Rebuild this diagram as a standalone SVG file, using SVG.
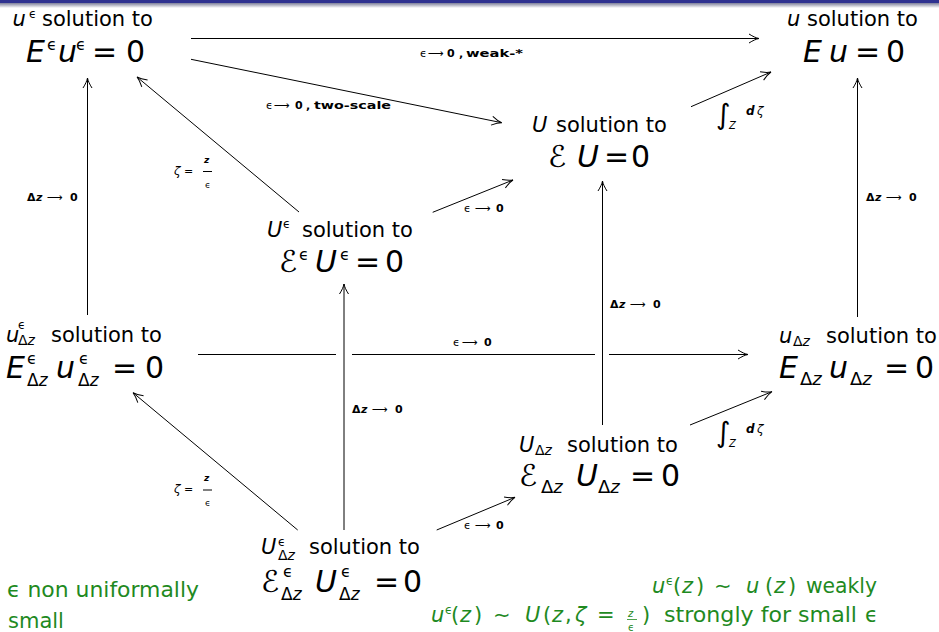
<svg xmlns="http://www.w3.org/2000/svg" width="939" height="632" viewBox="0 0 939 632">
<defs>
<linearGradient id="sh" x1="0" y1="0" x2="0" y2="1"><stop offset="0" stop-color="#7d7f9a"/><stop offset="1" stop-color="#ffffff"/></linearGradient>
<marker id="ah" viewBox="-12 -6 14 12" markerWidth="14" markerHeight="12" refX="0" refY="0" orient="auto" markerUnits="userSpaceOnUse">
<path d="M-10,-4.5 C-6,-2 -3,-0.6 0,0 C-3,0.6 -6,2 -10,4.5" fill="none" stroke="#000" stroke-width="1"/>
</marker>
<style>
.f{font-family:"DejaVu Sans","Liberation Sans",sans-serif;fill:#000}
.n21{font-size:21px}
.m{font-size:30px}
.i{font-style:italic}
.b{font-weight:bold}
.sp{font-size:12px}
.spm{font-size:16px}
.sb{font-size:14px}
.sbm{font-size:18px}
.sbh{font-size:17px}
.lb{font-size:11px}
.g{fill:#1f8a1f}
.c{fill:none;stroke:#000;stroke-width:1}
.a{marker-end:url(#ah)}
</style>
</defs>
<rect x="0" y="0" width="939" height="632" fill="#fff"/>
<rect x="0" y="0" width="939" height="3" fill="#2f3290"/>
<rect x="0" y="3" width="939" height="5" fill="url(#sh)"/>

<g id="connectors">
<path class="c a" d="M191,38.5 H759"/>
<path class="c a" d="M191,59.3 L501.7,122.7"/>
<path class="c a" d="M691,106.7 L771,72"/>
<path class="c a" d="M299,212 L137,77"/>
<path class="c a" d="M432.7,212.3 L513,180"/>
<path class="c a" d="M87.5,315 V78"/>
<path class="c a" d="M857.5,317 V78"/>
<path class="c a" d="M602.5,425 V181"/>
<path class="c a" d="M344,530 V284"/>
<path class="c a" d="M198,354.5 H336 M352,354.5 H595 M609,354.5 H748"/>
<path class="c a" d="M690,425 L772,391.7"/>
<path class="c a" d="M297.7,530 L133,392.7"/>
<path class="c a" d="M436.7,530 L515,497.3"/>
</g>

<g id="labels">
<text class="f lb" y="57.3"><tspan x="420">ϵ</tspan><tspan x="428">⟶</tspan><tspan class="b" x="447">0</tspan><tspan class="b" x="459">,</tspan><tspan class="b" x="466" textLength="57" lengthAdjust="spacingAndGlyphs">weak-*</tspan></text>
<text class="f lb" y="109.3"><tspan x="266">ϵ</tspan><tspan x="274">⟶</tspan><tspan class="b" x="295">0</tspan><tspan class="b" x="306">,</tspan><tspan class="b" x="314" textLength="77" lengthAdjust="spacingAndGlyphs">two-scale</tspan></text>
<text class="f lb" y="212"><tspan x="464">ϵ</tspan><tspan x="475">⟶</tspan><tspan class="b" x="496">0</tspan></text>
<text class="f lb" y="529"><tspan x="464">ϵ</tspan><tspan x="475">⟶</tspan><tspan class="b" x="496">0</tspan></text>
<text class="f lb" y="346"><tspan x="453">ϵ</tspan><tspan x="462">⟶</tspan><tspan class="b" x="484">0</tspan></text>
<text class="f lb" y="201"><tspan class="b" x="27">Δ</tspan><tspan class="b i" x="36">z</tspan><tspan x="47">⟶</tspan><tspan class="b" x="70">0</tspan></text>
<text class="f lb" y="201"><tspan class="b" x="866">Δ</tspan><tspan class="b i" x="875">z</tspan><tspan x="886">⟶</tspan><tspan class="b" x="909">0</tspan></text>
<text class="f lb" y="308"><tspan class="b" x="610">Δ</tspan><tspan class="b i" x="619">z</tspan><tspan x="630">⟶</tspan><tspan class="b" x="653">0</tspan></text>
<text class="f lb" y="413"><tspan class="b" x="352">Δ</tspan><tspan class="b i" x="361">z</tspan><tspan x="372">⟶</tspan><tspan class="b" x="395">0</tspan></text>
<text class="f" font-size="28" x="716" y="124">∫</text>
<text class="f i" font-size="10" x="729" y="129">Z</text>
<text class="f" font-size="12" y="115"><tspan class="b i" x="746">d</tspan><tspan class="i" x="757">ζ</tspan></text>
<text class="f" font-size="28" x="716" y="442">∫</text>
<text class="f i" font-size="10" x="729" y="447">Z</text>
<text class="f" font-size="12" y="433"><tspan class="b i" x="746">d</tspan><tspan class="i" x="757">ζ</tspan></text>
<text class="f" font-size="12" y="175"><tspan class="i" x="174">ζ</tspan><tspan x="184" font-size="11">=</tspan></text>
<text class="f b i" font-size="9" x="204" y="163">z</text>
<path class="c" d="M203,171.5 H212"/>
<text class="f" font-size="9" x="205" y="188">ϵ</text>
<text class="f" font-size="12" y="493"><tspan class="i" x="174">ζ</tspan><tspan x="184" font-size="11">=</tspan></text>
<text class="f b i" font-size="9" x="204" y="481">z</text>
<path class="c" d="M203,490 H212"/>
<text class="f" font-size="9" x="205" y="506">ϵ</text>
</g>

<g id="nA">
<text class="f n21"><tspan class="i" x="12.5" y="26">u</tspan><tspan class="sp" x="29" y="18">ϵ</tspan><tspan x="42" y="26">solution to</tspan></text>
<text class="f m"><tspan class="i" x="26" y="62">E</tspan><tspan class="spm" x="47" y="50">ϵ</tspan><tspan class="i" x="58" y="62">u</tspan><tspan class="spm" x="76" y="50">ϵ</tspan><tspan x="92" y="62">=</tspan><tspan x="126" y="62">0</tspan></text>
</g>
<g id="nB">
<text class="f n21"><tspan class="i" x="787" y="26">u</tspan><tspan x="807" y="26">solution to</tspan></text>
<text class="f m"><tspan class="i" x="803" y="62">E</tspan><tspan class="i" x="829" y="62">u</tspan><tspan x="855" y="62">=</tspan><tspan x="886" y="62">0</tspan></text>
</g>
<g id="nC">
<text class="f n21"><tspan class="i" x="532" y="132">U</tspan><tspan x="556" y="132">solution to</tspan></text>
<text class="f m"><tspan x="548" y="167">ℰ</tspan><tspan class="i" x="577" y="167">U</tspan><tspan x="604" y="167">=</tspan><tspan x="631" y="167">0</tspan></text>
</g>
<g id="nD">
<text class="f n21"><tspan class="i" x="267" y="237">U</tspan><tspan class="sp" x="283" y="228">ϵ</tspan><tspan x="302" y="237">solution to</tspan></text>
<text class="f m"><tspan x="279" y="272">ℰ</tspan><tspan class="spm" x="299" y="260">ϵ</tspan><tspan class="i" x="315" y="272">U</tspan><tspan class="spm" x="340" y="260">ϵ</tspan><tspan x="355" y="272">=</tspan><tspan x="385" y="272">0</tspan></text>
</g>
<g id="nE">
<text class="f n21"><tspan class="i" x="6" y="342">u</tspan><tspan class="sp" x="18" y="328.5">ϵ</tspan><tspan class="sb" x="18" y="345">Δ</tspan><tspan class="sb i">z</tspan><tspan x="51" y="342">solution to</tspan></text>
<text class="f m"><tspan class="i" x="6" y="378">E</tspan><tspan class="spm" x="27" y="364">ϵ</tspan><tspan class="sbh" x="27" y="386">Δ</tspan><tspan class="sbh i">z</tspan><tspan class="i" x="56" y="378">u</tspan><tspan class="spm" x="79" y="364">ϵ</tspan><tspan class="sbh" x="78" y="386">Δ</tspan><tspan class="sbh i">z</tspan><tspan x="112" y="378">=</tspan><tspan x="145" y="378">0</tspan></text>
</g>
<g id="nF">
<text class="f n21"><tspan class="i" x="779" y="343">u</tspan><tspan class="sb" x="793" y="346">Δ</tspan><tspan class="sb i">z</tspan><tspan x="826" y="343">solution to</tspan></text>
<text class="f m"><tspan class="i" x="779" y="378">E</tspan><tspan class="sbm" x="800" y="385">Δ</tspan><tspan class="sbm i">z</tspan><tspan class="i" x="829" y="378">u</tspan><tspan class="sbm" x="850" y="385">Δ</tspan><tspan class="sbm i">z</tspan><tspan x="884" y="378">=</tspan><tspan x="915" y="378">0</tspan></text>
</g>
<g id="nG">
<text class="f n21"><tspan class="i" x="519" y="452">U</tspan><tspan class="sb" x="535" y="455">Δ</tspan><tspan class="sb i">z</tspan><tspan x="567" y="452">solution to</tspan></text>
<text class="f m"><tspan x="519" y="486">ℰ</tspan><tspan class="sbm" x="541" y="493">Δ</tspan><tspan class="sbm i">z</tspan><tspan class="i" x="576" y="486">U</tspan><tspan class="sbm" x="598" y="493">Δ</tspan><tspan class="sbm i">z</tspan><tspan x="630" y="486">=</tspan><tspan x="661" y="486">0</tspan></text>
</g>
<g id="nH">
<text class="f n21"><tspan class="i" x="261" y="554">U</tspan><tspan class="sp" x="278" y="545.5">ϵ</tspan><tspan class="sb" x="278" y="560">Δ</tspan><tspan class="sb i">z</tspan><tspan x="309" y="554">solution to</tspan></text>
<text class="f m"><tspan x="261" y="592">ℰ</tspan><tspan class="spm" x="283" y="577">ϵ</tspan><tspan class="sbh" x="281" y="600">Δ</tspan><tspan class="sbh i">z</tspan><tspan class="i" x="315" y="592">U</tspan><tspan class="spm" x="341" y="577">ϵ</tspan><tspan class="sbh" x="339" y="600">Δ</tspan><tspan class="sbh i">z</tspan><tspan x="374" y="592">=</tspan><tspan x="403" y="592">0</tspan></text>
</g>

<g id="notes">
<text class="f g" font-size="21"><tspan x="7" y="597" textLength="192" lengthAdjust="spacingAndGlyphs">ϵ non uniformally</tspan><tspan x="8" y="628">small</tspan></text>
<text class="f g" font-size="21" y="593"><tspan class="i" x="652">u</tspan><tspan class="sp" x="666" y="585">ϵ</tspan><tspan x="673" y="593">(</tspan><tspan class="i" x="682">z</tspan><tspan x="696">)</tspan><tspan x="714">∼</tspan><tspan class="i" x="746">u</tspan><tspan x="765">(</tspan><tspan class="i" x="774">z</tspan><tspan x="788">)</tspan><tspan x="806" textLength="71" lengthAdjust="spacingAndGlyphs">weakly</tspan></text>
<text class="f g" font-size="21" y="621.7"><tspan class="i" x="431">u</tspan><tspan class="sp" x="445" y="614">ϵ</tspan><tspan x="451" y="621.7">(</tspan><tspan class="i" x="460">z</tspan><tspan x="474">)</tspan><tspan x="493">∼</tspan><tspan class="i" x="525">U</tspan><tspan x="543">(</tspan><tspan class="i" x="552">z</tspan><tspan x="565">,</tspan><tspan class="i" x="575">ζ</tspan><tspan x="597">=</tspan><tspan x="642">)</tspan><tspan x="664" textLength="193" lengthAdjust="spacingAndGlyphs">strongly for small</tspan><tspan x="865">ϵ</tspan></text>
<text class="f g i" font-size="10" x="628" y="617">z</text>
<path d="M627,619.5 H637" stroke="#1f8a1f" stroke-width="0.8"/>
<text class="f g" font-size="10" x="628" y="631">ϵ</text>
</g>
</svg>
